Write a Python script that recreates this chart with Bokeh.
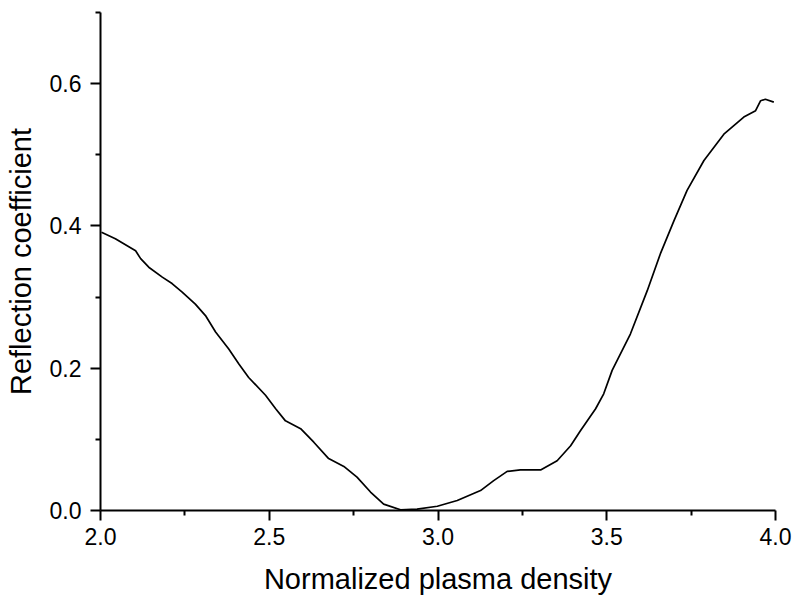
from bokeh.plotting import figure
from bokeh.models import FixedTicker, PrintfTickFormatter, Range1d
from bokeh.embed import file_html
from bokeh.resources import INLINE

# Data
density = [2.003, 2.044, 2.104, 2.119, 2.143, 2.183, 2.212, 2.242, 2.281, 2.311,
           2.341, 2.380, 2.410, 2.439, 2.489, 2.519, 2.548, 2.593, 2.632, 2.676,
           2.721, 2.760, 2.800, 2.839, 2.889, 2.938, 2.998, 3.057, 3.126, 3.165,
           3.205, 3.244, 3.304, 3.353, 3.393, 3.422, 3.467, 3.491, 3.516, 3.570,
           3.620, 3.659, 3.699, 3.738, 3.788, 3.847, 3.906, 3.941, 3.956, 3.970,
           3.995]
reflection = [0.391, 0.382, 0.365, 0.354, 0.342, 0.328, 0.319, 0.307, 0.290, 0.274,
              0.251, 0.227, 0.206, 0.187, 0.162, 0.143, 0.126, 0.115, 0.096, 0.073,
              0.062, 0.047, 0.026, 0.009, 0.001, 0.002, 0.006, 0.014, 0.028, 0.042,
              0.055, 0.057, 0.057, 0.070, 0.091, 0.112, 0.143, 0.164, 0.197, 0.248,
              0.309, 0.361, 0.407, 0.450, 0.492, 0.529, 0.553, 0.562, 0.576, 0.578,
              0.574]

x_major = [2.0, 2.5, 3.0, 3.5, 4.0]
x_minor = [2.25, 2.75, 3.25, 3.75]
y_major = [0.0, 0.2, 0.4, 0.6]
y_minor = [0.1, 0.3, 0.5, 0.7]

FONT = "Liberation Sans"

p = figure(width=795, height=604, output_backend="svg", toolbar_location=None,
           x_range=Range1d(2.0, 4.0), y_range=Range1d(0.0, 0.7),
           min_border_left=100, min_border_right=20, min_border_top=12,
           min_border_bottom=94)

p.line(density, reflection, line_color="black", line_width=1.7,
       line_join="round")

p.grid.visible = False
p.outline_line_color = None
p.background_fill_color = "white"
p.border_fill_color = "white"

p.xaxis.ticker = FixedTicker(ticks=x_major, minor_ticks=x_minor)
p.yaxis.ticker = FixedTicker(ticks=y_major, minor_ticks=y_minor)
p.xaxis.formatter = PrintfTickFormatter(format="%.1f")
p.yaxis.formatter = PrintfTickFormatter(format="%.1f")

p.xaxis.axis_label = "Normalized plasma density"
p.yaxis.axis_label = "Reflection coefficient"

for ax in (p.xaxis[0], p.yaxis[0]):
    ax.axis_line_width = 2
    ax.axis_line_color = "black"
    ax.major_tick_line_width = 2
    ax.minor_tick_line_width = 2
    ax.major_tick_line_color = "black"
    ax.minor_tick_line_color = "black"
    ax.major_tick_out = 10
    ax.major_tick_in = 0
    ax.minor_tick_out = 5
    ax.minor_tick_in = 0
    ax.major_label_text_font = FONT
    ax.major_label_text_font_size = "23px"
    ax.major_label_text_color = "black"
    ax.axis_label_text_font = FONT
    ax.axis_label_text_font_size = "29px"
    ax.axis_label_text_font_style = "normal"
    ax.axis_label_text_color = "black"

p.xaxis.major_label_standoff = 7
p.xaxis.axis_label_standoff = 15
p.yaxis.major_label_standoff = 9
p.yaxis.axis_label_standoff = 10

open("out.html", "w").write(file_html(p, INLINE))
